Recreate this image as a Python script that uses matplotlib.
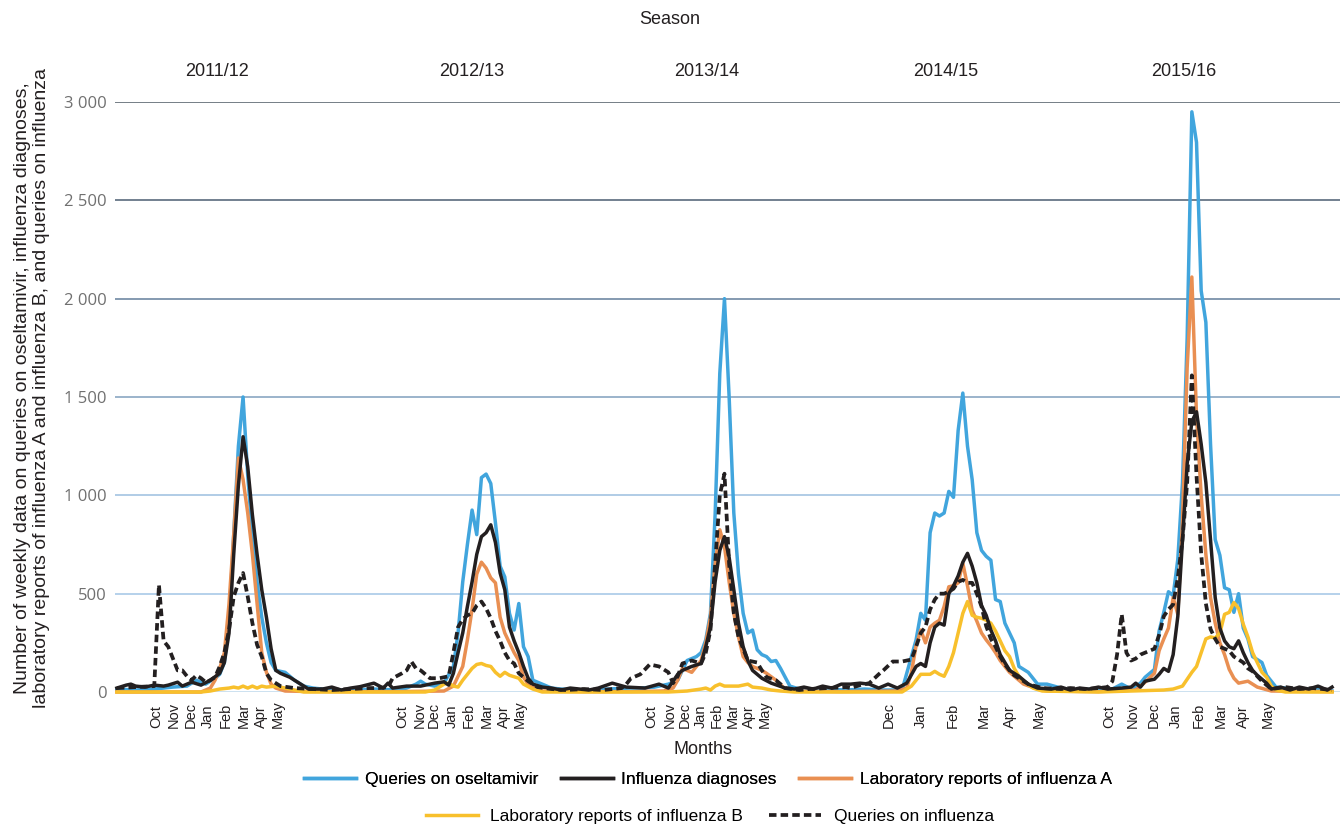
import matplotlib
matplotlib.use("Agg")
import matplotlib.pyplot as plt
from matplotlib.transforms import blended_transform_factory

# --- data (week index from start of series, weekly counts) ---
osel_wk = [0, 4, 8, 12, 15, 17, 18, 19, 21, 22, 23, 24, 25, 26, 27, 28, 29, 30, 31, 32, 33, 34, 36, 38, 40, 42, 44,
           46, 50, 55, 60, 62, 64, 65, 66, 68, 70, 72, 73, 74, 75, 76, 77, 78, 79, 80, 81, 82, 83, 84, 85, 86, 87, 88,
           89, 91, 93, 95, 100, 105, 110, 112, 115, 118, 120, 121, 122, 123, 124, 125, 126, 127, 128, 129, 130, 131,
           132, 133, 134, 135, 136, 137, 138, 139, 140, 141, 142, 143, 144, 146, 148, 152, 156, 160, 164, 168, 169,
           171, 172, 173, 174, 175, 176, 177, 178, 179, 180, 181, 182, 183, 184, 185, 186, 187, 188, 189, 190, 191,
           192, 193, 195, 197, 199, 202, 204, 207, 210, 213, 215, 217, 219, 220, 222, 223, 224, 225, 226, 227, 228,
           229, 230, 231, 232, 233, 234, 235, 236, 237, 238, 239, 240, 241, 242, 243, 245, 246, 248, 252, 256, 260]
osel_val = [15, 10, 15, 25, 30, 60, 50, 40, 70, 90, 150, 350, 800, 1250, 1500, 1100, 800, 560, 380, 250, 150, 110,
            100, 60, 30, 20, 15,
            10, 10, 15, 10, 20, 40, 55, 40, 30, 45, 130, 300, 560, 750, 925, 800, 1090, 1108, 1060, 860, 640, 585,
            400, 315, 450, 230, 180, 60, 40, 20, 15, 10, 15, 20, 20, 25, 40, 60, 110, 160, 170, 180, 200, 265, 400,
            900, 1620, 2000, 1500, 910, 600, 400, 300, 315, 215, 190, 180, 155, 160, 120, 75, 30, 15, 10, 15, 10, 15,
            10, 10, 95, 265, 400, 365, 810, 910, 895, 910, 1020, 990, 1330, 1520, 1250, 1080, 810, 720, 690, 670,
            470, 460, 350, 300, 250, 130, 100, 40, 40, 20, 10, 15, 10, 15, 40, 15, 45, 75, 115, 310, 405, 510, 490,
            675, 1065, 1800, 2950, 2795, 2040, 1880, 1260, 775, 695, 530, 520, 405, 500, 325, 270, 180, 150, 85, 25,
            15, 15, 5]

diag_wk = [0, 2, 3, 4, 6, 8, 10, 11, 13, 14, 16, 18, 20, 22, 23, 24, 25, 26, 27, 28, 29, 30, 31, 32, 33, 34, 35, 37,
           39, 41, 44, 46, 48, 50, 52, 55, 57, 58, 59, 62, 65, 68, 70, 71, 72, 73, 74, 75, 76, 77, 78, 79, 80, 81,
           82, 83, 84, 85, 86, 87, 88, 89, 91, 93, 95, 97, 99, 101, 103, 106, 109, 113, 116, 118, 120, 121, 123,
           125, 126, 127, 128, 129, 130, 131, 132, 133, 134, 135, 136, 138, 140, 143, 145, 147, 149, 151, 153, 155,
           157, 159, 161, 163, 165, 167, 169, 171, 172, 173, 174, 175, 176, 177, 178, 179, 180, 181, 182, 183, 184,
           185, 186, 187, 188, 189, 190, 191, 193, 195, 197, 200, 202, 204, 206, 208, 210, 212, 215, 217, 218, 219,
           220, 222, 223, 224, 225, 226, 227, 228, 229, 230, 231, 232, 233, 234, 235, 236, 237, 238, 239, 240, 241,
           242, 243, 244, 246, 247, 249, 251, 253, 255, 257, 259, 260]
diag_val = [20, 35, 40, 30, 25, 35, 30, 35, 50, 30, 50, 35, 60, 95, 150, 300, 700, 1050, 1298, 1145, 900, 700, 520,
            380, 220, 110, 95, 75, 45, 15, 15, 25, 10, 20, 27, 45, 20, 45, 20, 30, 30, 45, 52, 35, 95, 200, 300, 435,
            560, 700, 790, 810, 850, 760, 605, 520, 330, 260, 200, 130, 70, 40, 25, 20, 10, 20, 15, 10, 20, 45, 25,
            20, 40, 20, 90, 110, 130, 145, 230, 330, 560, 720, 790, 685, 520, 350, 230, 160, 110, 70, 45, 20, 15, 25,
            15, 30, 20, 40, 40, 45, 40, 20, 40, 20, 45, 130, 145, 130, 250, 330, 350, 340, 500, 540, 590, 660, 705,
            640, 555, 440, 390, 315, 260, 190, 150, 110, 80, 40, 20, 15, 25, 10, 20, 15, 25, 15, 20, 25, 45, 25, 55,
            65, 90, 120, 105, 190, 385, 775, 1160, 1375, 1425, 1260, 1065, 775, 480, 325, 260, 230, 220, 260, 200,
            150, 110, 85, 45, 15, 25, 10, 25, 15, 30, 10, 25]

labA_wk = [0, 10, 18, 20, 21, 22, 23, 24, 25, 26, 27, 28, 29, 30, 31, 32, 33, 34, 36, 40, 50, 60, 70, 72, 73, 74, 75,
           76, 77, 78, 79, 80, 81, 82, 83, 84, 85, 86, 87, 88, 89, 91, 100, 110, 117, 119, 120, 121, 122, 123, 124,
           125, 126, 127, 128, 129, 130, 131, 132, 133, 134, 135, 136, 137, 138, 139, 141, 143, 145, 155, 167, 169,
           170, 171, 172, 173, 174, 175, 176, 177, 178, 179, 180, 181, 182, 183, 184, 185, 186, 187, 188, 189, 190,
           191, 192, 194, 197, 199, 210, 218, 220, 222, 223, 224, 225, 226, 227, 228, 229, 230, 231, 232, 233, 234,
           235, 236, 237, 238, 239, 240, 242, 244, 247, 260]
labA_val = [0, 0, 0, 20, 60, 120, 200, 450, 800, 1190, 1080, 910, 700, 450, 200, 100, 40, 20, 5, 3, 2, 2, 5, 30, 80,
            130, 265, 420, 600, 660, 630, 580, 555, 380, 300, 250, 200, 160, 75, 40, 25, 5, 2, 2, 5, 20, 60, 120,
            110, 100, 130, 160, 250, 380, 650, 825, 740, 560, 400, 280, 180, 150, 130, 120, 110, 95, 60, 15, 5, 2,
            5, 20, 100, 235, 315, 250, 330, 350, 365, 435, 535, 540, 555, 655, 540, 415, 360, 300, 265, 235, 200, 160,
            130, 100, 80, 40, 15, 5, 2, 10, 50, 95, 210, 270, 325, 480, 395, 870, 1650, 2110, 1400, 1000, 700, 480,
            350, 250, 190, 115, 70, 45, 55, 25, 5, 2]

labB_wk = [0, 18, 20, 22, 24, 25, 26, 27, 28, 29, 30, 31, 32, 34, 36, 38, 40, 50, 60, 66, 68, 70, 71, 72, 73, 74, 75,
           76, 77, 78, 79, 80, 81, 82, 83, 84, 86, 87, 89, 91, 100, 110, 118, 122, 125, 126, 127, 128, 129, 130, 131,
           133, 134, 135, 136, 138, 140, 142, 145, 155, 168, 170, 171, 172, 174, 175, 176, 177, 178, 179, 180, 181,
           182, 183, 184, 185, 186, 187, 188, 189, 190, 191, 192, 193, 194, 196, 198, 210, 224, 226, 228, 229, 230,
           231, 232, 233, 234, 235, 236, 237, 238, 239, 240, 241, 242, 243, 244, 245, 246, 247, 248, 250, 260]
labB_val = [0, 0, 5, 15, 20, 25, 20, 30, 20, 30, 20, 30, 25, 30, 20, 10, 0, 0, 0, 0, 10, 40, 45, 30, 25, 60, 90, 120,
            140, 145, 135, 130, 100, 80, 100, 85, 70, 40, 15, 0, 0, 0, 0, 5, 15, 20, 10, 30, 40, 30, 30, 30, 35, 40,
            25, 20, 10, 5, 0, 0, 0, 30, 60, 90, 90, 105, 90, 80, 130, 200, 300, 400, 460, 390, 380, 375, 365, 350,
            310, 260, 210, 180, 120, 80, 55, 20, 5, 0, 10, 15, 30, 65, 100, 130, 200, 270, 280, 275, 300, 395, 405,
            455, 425, 345, 280, 200, 150, 100, 75, 30, 10, 0, 0]

flu_wk = [0, 4, 8, 9, 10, 11, 12, 13, 14, 15, 16, 17, 18, 19, 20, 21, 22, 23, 24, 25, 26, 27, 28, 29, 30, 31, 32, 33,
          35, 38, 42, 46, 50, 54, 56, 58, 59, 61, 62, 63, 64, 65, 67, 69, 71, 72, 73, 74, 75, 76, 77, 78, 79, 80, 81,
          82, 83, 84, 85, 86, 88, 90, 93, 96, 100, 104, 108, 109, 110, 112, 114, 115, 116, 118, 119, 120, 121, 123,
          125, 126, 127, 128, 129, 130, 131, 132, 133, 134, 135, 136, 137, 138, 139, 141, 143, 146, 148, 152, 156,
          157, 159, 161, 163, 164, 166, 168, 170, 171, 172, 173, 174, 175, 176, 177, 178, 179, 180, 181, 182, 183,
          184, 185, 186, 187, 188, 189, 190, 191, 192, 193, 195, 198, 202, 204, 207, 210, 212, 213, 214, 215, 216,
          217, 218, 219, 220, 221, 222, 223, 224, 225, 226, 227, 228, 229, 230, 231, 232, 233, 234, 235, 236, 237,
          238, 239, 240, 241, 242, 243, 245, 247, 250, 253, 256, 260]
flu_val = [20, 25, 30, 545, 260, 230, 170, 110, 110, 80, 60, 85, 70, 50, 60, 75, 130, 200, 315, 485, 555, 605, 485,
           350, 240, 180, 95, 60, 30, 20, 15, 10, 15, 20, 20, 25, 70, 95, 110, 155, 120, 110, 70, 70, 80, 200, 330,
           370, 390, 400, 440, 460, 425, 375, 310, 260, 200, 160, 145, 95, 55, 25, 15, 10, 15, 10, 20, 40, 70, 90,
           140, 135, 130, 100, 45, 80, 145, 160, 145, 200, 315, 650, 1000, 1110, 650, 400, 280, 220, 160, 155, 150,
           110, 75, 60, 20, 10, 15, 20, 25, 20, 35, 45, 90, 110, 155, 155, 165, 230, 300, 330, 420, 470, 500, 500,
           510, 525, 560, 570, 555, 555, 500, 435, 335, 270, 230, 180, 140, 110, 85, 70, 40, 20, 15, 20, 15, 20, 25,
           55, 190, 395, 200, 160, 170, 190, 200, 210, 220, 290, 385, 420, 445, 580, 775, 1065, 1610, 1100, 700, 450,
           320, 270, 230, 220, 210, 180, 165, 150, 120, 105, 55, 15, 25, 15, 20, 10]

yticks = [0, 500, 1000, 1500, 2000, 2500, 3000]
grid_colors = ['#c4dbee', '#a9cae7', '#a3c4e2', '#8aa7c2', '#7089a3', '#5a6b7d', '#5e6872']

month_pos = [8.5, 12.2, 15.8, 19.4, 23.3, 27.1, 30.8, 34.4,
             61.1, 64.7, 67.9, 71.6, 75.2, 79.1, 82.9, 86.3,
             114.3, 118.2, 121.4, 125.0, 128.4, 131.8, 135.3, 138.7,
             165.2, 172.0, 178.8, 185.5, 191.0, 197.2,
             212.4, 217.3, 221.8, 226.5, 231.4, 236.1, 241.0, 246.2]
month_lbl = ['Oct', 'Nov', 'Dec', 'Jan', 'Feb', 'Mar', 'Apr', 'May'] * 3 + \
            ['Dec', 'Jan', 'Feb', 'Mar', 'Apr', 'May'] + \
            ['Oct', 'Nov', 'Dec', 'Jan', 'Feb', 'Mar', 'Apr', 'May']

seasons = ['2011/12', '2012/13', '2013/14', '2014/15', '2015/16']
season_pos = [21.4, 75.9, 126.1, 177.4, 228.2]

plt.rcParams['font.family'] = ['Liberation Sans', 'DejaVu Sans']

fig = plt.figure(figsize=(13.4, 8.25), dpi=100)
ax = fig.add_axes([115 / 1340, 1 - 692 / 825, 1225 / 1340, 590 / 825])
xfig = blended_transform_factory(ax.transData, fig.transFigure)

lw = 2.5
ax.plot(osel_wk, osel_val, color='#41a5dd', lw=lw, zorder=3, clip_on=False, label='Queries on oseltamivir')
ax.plot(labA_wk, labA_val, color='#e98f52', lw=lw, zorder=4, clip_on=False, label='Laboratory reports of influenza A')
ax.plot(labB_wk, labB_val, color='#f8c02c', lw=lw, zorder=4, clip_on=False, label='Laboratory reports of influenza B')
ax.plot(diag_wk, diag_val, color='#231f20', lw=lw, zorder=5, clip_on=False, label='Influenza diagnoses')
ax.plot(flu_wk, flu_val, color='#231f20', lw=2.7, ls=(0, (2.0, 1.1)), zorder=6, clip_on=False,
        label='Queries on influenza')

for yv, c in zip(yticks, grid_colors):
    ax.axhline(yv, color=c, lw=1.2, zorder=1)

ax.set_xlim(-0.4, 261.7)
ax.set_ylim(0, 3000)
ax.set_yticks(yticks)
ax.set_yticklabels([f'{v:,}'.replace(',', ' ') for v in yticks], color='#707070', fontsize=12,
                   family=['Open Sans', 'DejaVu Sans'])
ax.set_xticks([])
ax.tick_params(axis='both', length=0)
ax.tick_params(axis='y', pad=6)
for s in ax.spines.values():
    s.set_visible(False)

# month labels, rotated and bottom aligned like the original
for p, m in zip(month_pos, month_lbl):
    ax.text(p, 1 - 728 / 825, m, transform=xfig, rotation=90, ha='center', va='bottom',
            fontsize=10.5, color='#231f20')

# titles and axis labels
fig.text(670 / 1340, 1 - 20 / 825, 'Season', ha='center', va='center', fontsize=13, color='#231f20')
for s, p in zip(seasons, season_pos):
    ax.text(p, 1 - 72 / 825, s, transform=xfig, ha='center', va='center', fontsize=13, color='#231f20')
fig.text(703 / 1340, 1 - 750 / 825, 'Months', ha='center', va='center', fontsize=13, color='#231f20')
fig.text(32 / 1340, 1 - 388 / 825,
         'Number of weekly data on queries on oseltamivir, influenza diagnoses,\n'
         'laboratory reports of influenza A and influenza B, and queries on influenza',
         rotation=90, ha='center', va='center', multialignment='center', fontsize=14, color='#231f20',
         linespacing=1.1)

# legend in two centred rows
h, l = ax.get_legend_handles_labels()
order1 = [0, 3, 1]
order2 = [2, 4]
leg1 = fig.legend([h[i] for i in order1], [l[i] for i in order1], loc='center',
                  bbox_to_anchor=(708 / 1340, 1 - 779 / 825), ncol=3, frameon=False, fontsize=12.5,
                  handlelength=3.0, handletextpad=0.5, columnspacing=1.3, borderpad=0)
leg2 = fig.legend([h[i] for i in order2], [l[i] for i in order2], loc='center',
                  bbox_to_anchor=(710 / 1340, 1 - 816 / 825), ncol=2, frameon=False, fontsize=12.5,
                  handlelength=3.0, handletextpad=0.7, columnspacing=1.5, borderpad=0)
fig.add_artist(leg1)

fig.savefig('out.png', dpi=100)
